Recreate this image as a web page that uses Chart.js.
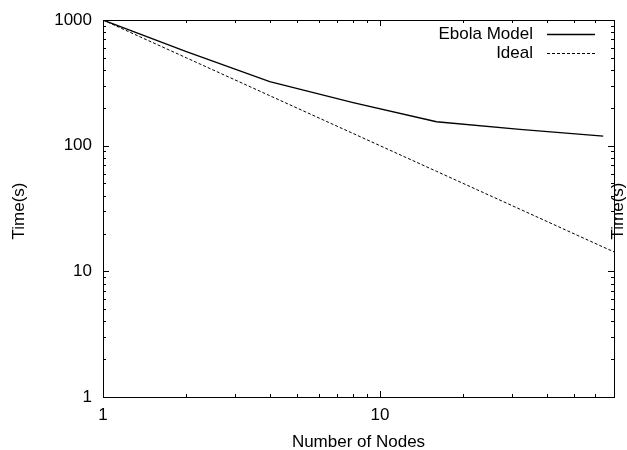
<!DOCTYPE html>
<html>
<head>
<meta charset="utf-8">
<script src="https://cdn.jsdelivr.net/npm/chart.js@4"></script>
<style>
  html, body { margin: 0; padding: 0; background: #fff; }
  #wrap { width: 627px; height: 450px; }
</style>
</head>
<body>
<div id="wrap"><canvas id="chart"></canvas></div>
<script>
// data
const nodes = [1, 2, 4, 8, 16, 32, 64];
const ebolaTimes = [1000, 560, 323, 220, 155, 135, 119];
const idealNodes = [1, 2, 4, 8, 16, 32, 64, 70];
const idealTimes = [1000, 500, 250, 125, 62.5, 31.25, 15.6, 14.3];

const xTickLabels = [1, 10];
const yTickLabels = [1, 10, 100, 1000];
const xMinorTicks = [2, 3, 4, 5, 6, 7, 8, 9, 20, 30, 40, 50, 60, 70];
const yMinorTicks = [2, 3, 4, 5, 6, 7, 8, 9, 20, 30, 40, 50, 60, 70, 80, 90, 200, 300, 400, 500, 600, 700, 800, 900];

const seriesNames = ['Ebola Model', 'Ideal'];
const xTitle = 'Number of Nodes';
const yTitle = 'Time(s)';

const FONT = '17px "Liberation Sans", Arial, sans-serif';

// gnuplot-ish frame: box, inward ticks on all sides, labels, legend
const framePlugin = {
  id: 'frame',
  afterDatasetsDraw(chart) {
    const { ctx, chartArea: a, scales } = chart;
    const x = scales.x, y = scales.y;
    ctx.save();
    ctx.strokeStyle = '#000';
    ctx.lineWidth = 1;
    ctx.strokeRect(a.left + 0.5, a.top + 0.5, a.right - a.left, a.bottom - a.top);

    ctx.beginPath();
    const tick = (v, len, axis) => {
      if (axis === 'x') {
        const px = Math.round(x.getPixelForValue(v)) + 0.5;
        ctx.moveTo(px, a.bottom); ctx.lineTo(px, a.bottom - len);
        ctx.moveTo(px, a.top); ctx.lineTo(px, a.top + len);
      } else {
        const py = Math.round(y.getPixelForValue(v)) + 0.5;
        ctx.moveTo(a.left, py); ctx.lineTo(a.left + len, py);
        ctx.moveTo(a.right, py); ctx.lineTo(a.right - len, py);
      }
    };
    xTickLabels.forEach(v => tick(v, 6, 'x'));
    xMinorTicks.forEach(v => tick(v, 3, 'x'));
    yTickLabels.forEach(v => tick(v, 6, 'y'));
    yMinorTicks.forEach(v => tick(v, 3, 'y'));
    ctx.stroke();

    ctx.fillStyle = '#000';
    ctx.font = FONT;
    ctx.textBaseline = 'middle';
    ctx.textAlign = 'right';
    yTickLabels.forEach(v => ctx.fillText(String(v), a.left - 11, y.getPixelForValue(v)));
    ctx.textAlign = 'center';
    xTickLabels.forEach(v => ctx.fillText(String(v), x.getPixelForValue(v), a.bottom + 18));
    ctx.fillText(xTitle, (a.left + a.right) / 2, a.bottom + 45);

    [19, 618].forEach(cx => {
      ctx.save();
      ctx.translate(cx, 211);
      ctx.rotate(-Math.PI / 2);
      ctx.fillText(yTitle, 0, 0);
      ctx.restore();
    });

    // legend, text left of the line sample
    ctx.textAlign = 'right';
    chart.data.datasets.forEach((ds, i) => {
      const ly = 34 + i * 19;
      ctx.fillText(seriesNames[i], 533, ly);
      ctx.beginPath();
      ctx.setLineDash(ds.borderDash || []);
      ctx.lineWidth = ds.borderWidth;
      ctx.moveTo(547, ly + 0.5); ctx.lineTo(595, ly + 0.5);
      ctx.stroke();
    });
    ctx.restore();
  }
};

new Chart(document.getElementById('chart'), {
  type: 'line',
  data: {
    datasets: [
      {
        label: seriesNames[0],
        data: nodes.map((n, i) => ({ x: n, y: ebolaTimes[i] })),
        borderColor: '#000',
        borderWidth: 1.3,
        pointRadius: 0,
        tension: 0
      },
      {
        label: seriesNames[1],
        data: idealNodes.map((n, i) => ({ x: n, y: idealTimes[i] })),
        borderColor: '#000',
        borderWidth: 1,
        borderDash: [3, 2],
        pointRadius: 0,
        tension: 0
      }
    ]
  },
  options: {
    responsive: true,
    maintainAspectRatio: false,
    animation: false,
    layout: { padding: { left: 103, right: 13, top: 20, bottom: 53 } },
    scales: {
      x: { type: 'logarithmic', min: 1, max: 70, display: false },
      y: { type: 'logarithmic', min: 1, max: 1000, display: false }
    },
    plugins: {
      legend: { display: false },
      tooltip: { enabled: false }
    }
  },
  plugins: [framePlugin]
});
</script>
</body>
</html>
